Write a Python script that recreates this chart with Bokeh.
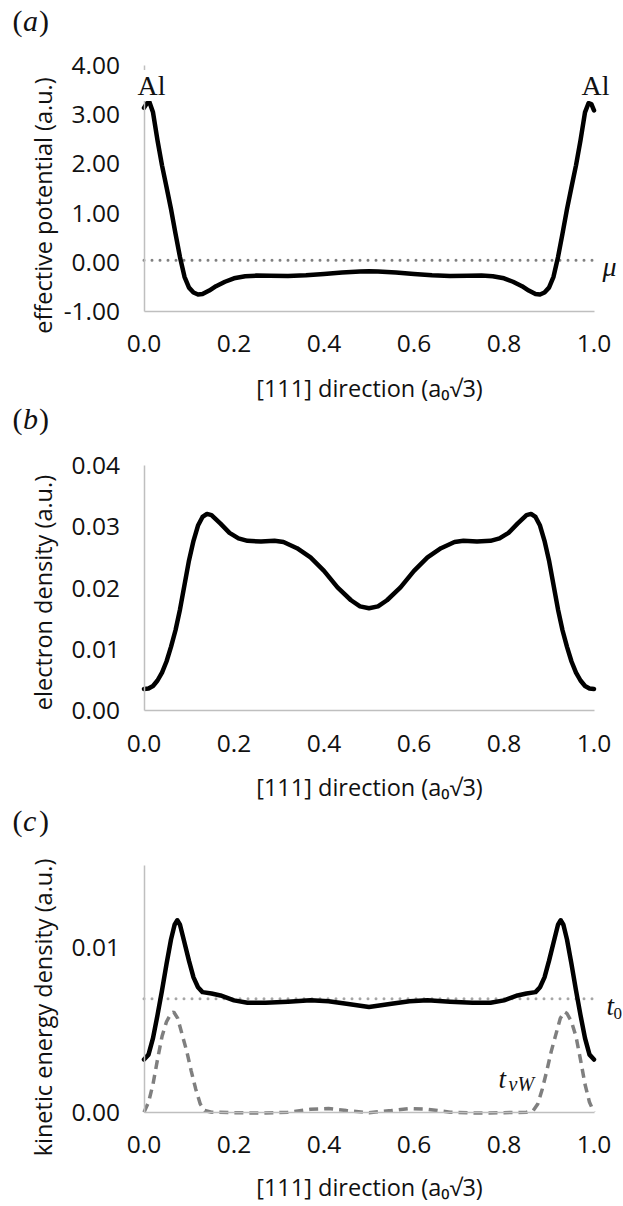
import math
from bokeh.plotting import figure
from bokeh.layouts import column
from bokeh.models import FixedTicker, NumeralTickFormatter, Label, Range1d
from bokeh.embed import file_html
from bokeh.resources import INLINE

# ---------------- data ----------------
x_ticks = [0.0, 0.2, 0.4, 0.6, 0.8, 1.0]

# (a) effective potential along [111]
pos_a = [0.000, 0.006, 0.012, 0.020, 0.030, 0.040, 0.050, 0.060, 0.070, 0.080,
         0.090, 0.100, 0.110, 0.120, 0.130, 0.145, 0.160, 0.180, 0.200, 0.225,
         0.250, 0.280, 0.320, 0.360, 0.400, 0.440, 0.480, 0.500, 0.520, 0.560,
         0.600, 0.640, 0.680, 0.720, 0.750, 0.775, 0.800, 0.820, 0.840, 0.855,
         0.870, 0.880, 0.890, 0.900, 0.910, 0.920, 0.930, 0.940, 0.950, 0.960,
         0.970, 0.980, 0.988, 0.994, 1.000]
veff = [3.14, 3.23, 3.26, 3.05, 2.48, 1.97, 1.53, 1.08, 0.58, 0.10,
        -0.30, -0.52, -0.62, -0.66, -0.65, -0.58, -0.49, -0.40, -0.33, -0.29,
        -0.275, -0.28, -0.285, -0.27, -0.24, -0.21, -0.19, -0.185, -0.19, -0.21,
        -0.24, -0.27, -0.285, -0.28, -0.275, -0.29, -0.33, -0.40, -0.49, -0.58,
        -0.65, -0.66, -0.62, -0.52, -0.30, 0.10, 0.58, 1.08, 1.53, 1.97,
        2.48, 3.05, 3.24, 3.22, 3.09]
mu_level = 0.04
a_yticks = [-1, 0, 1, 2, 3, 4]
a_yrange = (-1, 4)

# (b) electron density
pos_b = [0.000, 0.010, 0.020, 0.030, 0.040, 0.050, 0.060, 0.070, 0.080, 0.090,
         0.100, 0.110, 0.120, 0.130, 0.140, 0.150, 0.170, 0.190, 0.210, 0.230,
         0.260, 0.290, 0.310, 0.340, 0.370, 0.400, 0.430, 0.460, 0.480, 0.500,
         0.520, 0.540, 0.570, 0.600, 0.630, 0.660, 0.690, 0.710, 0.740, 0.770,
         0.790, 0.810, 0.830, 0.850, 0.860, 0.870, 0.880, 0.890, 0.900, 0.910,
         0.920, 0.930, 0.940, 0.950, 0.960, 0.970, 0.980, 0.990, 1.000]
density = [0.0035, 0.0036, 0.0040, 0.0049, 0.0062, 0.0080, 0.0104, 0.0131, 0.0165, 0.0205,
           0.0245, 0.0277, 0.0302, 0.0316, 0.0321, 0.0319, 0.0305, 0.0290, 0.0281, 0.0277,
           0.0276, 0.0277, 0.0275, 0.0265, 0.0250, 0.0228, 0.0201, 0.0180, 0.0170, 0.0167,
           0.0170, 0.0180, 0.0201, 0.0228, 0.0250, 0.0265, 0.0275, 0.0277, 0.0276, 0.0277,
           0.0281, 0.0290, 0.0305, 0.0319, 0.0321, 0.0316, 0.0302, 0.0277, 0.0245, 0.0205,
           0.0165, 0.0131, 0.0104, 0.0080, 0.0062, 0.0049, 0.0040, 0.0036, 0.0035]
b_yticks = [0.00, 0.01, 0.02, 0.03, 0.04]
b_yrange = (0.0, 0.04)

# (c) kinetic energy density (total) and von Weizsaecker term
pos_c = [0.000, 0.010, 0.020, 0.030, 0.040, 0.050, 0.060, 0.068, 0.074, 0.080,
         0.090, 0.100, 0.110, 0.120, 0.130, 0.150, 0.170, 0.200, 0.230, 0.270,
         0.320, 0.370, 0.410, 0.450, 0.500, 0.550, 0.590, 0.630, 0.680, 0.730,
         0.770, 0.800, 0.830, 0.850, 0.870, 0.880, 0.890, 0.900, 0.910, 0.920,
         0.926, 0.932, 0.940, 0.950, 0.960, 0.970, 0.980, 0.990, 1.000]
ked = [0.0032, 0.0035, 0.0045, 0.0059, 0.0074, 0.0090, 0.0105, 0.0114, 0.01167, 0.0114,
       0.0103, 0.0092, 0.0082, 0.0076, 0.0073, 0.00722, 0.0071, 0.0068, 0.00665, 0.00665,
       0.00672, 0.0068, 0.00675, 0.0066, 0.0064, 0.0066, 0.00675, 0.0068, 0.00672, 0.00665,
       0.00665, 0.0068, 0.0071, 0.00722, 0.0073, 0.0076, 0.0082, 0.0092, 0.0103, 0.0114,
       0.01167, 0.0114, 0.0105, 0.0090, 0.0074, 0.0059, 0.0045, 0.0035, 0.0032]
pos_vw = [0.000, 0.010, 0.020, 0.030, 0.040, 0.050, 0.060, 0.066, 0.075, 0.085,
          0.095, 0.105, 0.115, 0.125, 0.135, 0.150, 0.200, 0.260, 0.320, 0.370,
          0.410, 0.450, 0.500, 0.550, 0.590, 0.630, 0.680, 0.740, 0.800, 0.850,
          0.865, 0.875, 0.885, 0.895, 0.905, 0.915, 0.925, 0.934, 0.940, 0.950,
          0.960, 0.970, 0.980, 0.990, 1.000]
t_vw = [0.0000, 0.0006, 0.0017, 0.0032, 0.0046, 0.0055, 0.0060, 0.0061, 0.0057, 0.0047,
        0.0037, 0.0025, 0.0014, 0.0005, 0.0001, 0.0000, -0.00003, -0.00005, 0.0000, 0.00018,
        0.00022, 0.0001, -0.00003, 0.0001, 0.00022, 0.00018, 0.0000, -0.00005, -0.00003, 0.0000,
        0.0001, 0.0005, 0.0014, 0.0025, 0.0037, 0.0047, 0.0057, 0.0061, 0.0060, 0.0055,
        0.0046, 0.0032, 0.0017, 0.0006, 0.0000]
t0_level = 0.0069
c_yticks = [0.00, 0.01]
c_yrange = (0.0, 0.015)

x_title = "[111] direction (a\u2080\u221a3)"

# ---------------- layout geometry (page pixels) ----------------
SANS = "Open Sans"
SERIF = "Liberation Serif"
W = 623            # canvas width
AX_X0 = 143.5      # pixel of x = 0
AX_W = 450.0       # pixels from x = 0 to x = 1
INK = "#111111"
TICK_SIZE = "24.5px"
TITLE_SIZE = "23.5px"


class Panel:
    """A figure whose frame fills its canvas; axes are pinned at fixed locations.
    All pixel positions given to it are page rows/columns; `top` is the page row
    where this figure's canvas begins."""

    def __init__(self, top, h, yrange, yticks, py_lo, py_hi):
        self.top = top
        self.y0, self.y1 = yrange
        self.py0 = py_lo - top                # local pixel row of y0
        self.ky = (py_lo - py_hi) / (self.y1 - self.y0)
        self.kx = AX_W
        xs = -AX_X0 / self.kx
        xe = (W - AX_X0) / self.kx
        ye = self.y0 + self.py0 / self.ky
        ys = self.y0 - (h - self.py0) / self.ky
        p = figure(width=W, height=h, title=None,
                   x_range=Range1d(xs, xe), y_range=Range1d(ys, ye),
                   output_backend="svg", toolbar_location=None,
                   min_border=0, min_border_left=0, min_border_right=0,
                   min_border_top=0, min_border_bottom=0)
        p.outline_line_color = None
        p.xgrid.visible = False
        p.ygrid.visible = False
        p.background_fill_color = "white"
        p.border_fill_color = "white"
        p.xaxis.ticker = FixedTicker(ticks=x_ticks)
        p.yaxis.ticker = FixedTicker(ticks=yticks)
        p.xaxis.formatter = NumeralTickFormatter(format="0.0")
        p.yaxis.formatter = NumeralTickFormatter(format="0.00")
        p.xaxis.fixed_location = self.y0
        p.yaxis.fixed_location = 0.0
        p.xaxis.bounds = (0.0, 1.0)
        p.yaxis.bounds = (self.y0, self.y1)
        for ax in (p.xaxis[0], p.yaxis[0]):
            ax.axis_line_color = "#BFBFBF"
            ax.axis_line_width = 1.5
            ax.major_tick_line_color = None
            ax.minor_tick_line_color = None
            ax.major_tick_in = 0
            ax.major_tick_out = 0
            ax.major_label_text_font = SANS
            ax.major_label_text_font_size = TICK_SIZE
            ax.major_label_text_color = INK
        p.xaxis.major_label_standoff = 24
        p.yaxis.major_label_standoff = 24
        self.p = p

    def dx(self, px):
        return (px - AX_X0) / self.kx

    def dy(self, py):
        return self.y0 + (self.py0 - (py - self.top)) / self.ky

    def text(self, s, px, py, font=SANS, size=TITLE_SIZE, style="normal", align="center",
             baseline="middle", angle=0.0, bg=None, color=INK):
        l = Label(x=self.dx(px), y=self.dy(py), text=s,
                  text_font=font, text_font_size=size, text_font_style=style,
                  text_align=align, text_baseline=baseline, angle=angle,
                  text_color=color)
        if bg is not None:
            l.background_fill_color = bg
            l.background_fill_alpha = 1.0
        self.p.add_layout(l)

    def tag(self, letter, py):
        self.text("(", 12, py, font=SERIF, size="30px", align="left")
        self.text(letter, 22.5, py, font=SERIF, size="30px", style="italic", align="left")
        self.text(")", 38.5, py, font=SERIF, size="30px", align="left")


# canvas splits chosen in the blank gaps between panels
A = Panel(0, 440, a_yrange, a_yticks, 310.7, 65.2)
B = Panel(440, 400, b_yrange, b_yticks, 710.0, 465.0)
C = Panel(840, 366, c_yrange, c_yticks, 1111.7, 865.0)

# ---------------- panel (a) ----------------
pa = A.p
pa.line([0, 1], [mu_level, mu_level], line_color="#7F7F7F", line_width=3,
        line_dash="0 8", line_cap="round")
pa.line(pos_a, veff, line_color="black", line_width=4.5, line_join="round", line_cap="round")
A.tag("a", 20)
A.text("Al", 151, 85, font=SERIF, size="28px", baseline="alphabetic", bg="white")
A.text("Al", 595, 85, font=SERIF, size="28px", baseline="alphabetic", bg="white")
A.text("\u03bc", 602, 266, font=SERIF, size="28px", style="italic", align="left",
       baseline="alphabetic")
A.text("effective potential (a.u.)", 42, 205, angle=math.pi / 2)
A.text(x_title, 369, 387)

# ---------------- panel (b) ----------------
pb = B.p
pb.line(pos_b, density, line_color="black", line_width=4.5, line_join="round", line_cap="round")
A.tag("b", 418)
B.text("electron density (a.u.)", 42, 592, angle=math.pi / 2)
B.text(x_title, 369, 786)

# ---------------- panel (c) ----------------
pc = C.p
pc.line([0, 1], [t0_level, t0_level], line_color="#A6A6A6", line_width=3,
        line_dash="0 8", line_cap="round")
pc.line(pos_vw, t_vw, line_color="#7F7F7F", line_width=3.5, line_dash="9 6")
pc.line(pos_c, ked, line_color="black", line_width=4.5, line_join="round", line_cap="round")
B.tag("c", 820)
C.text("t", 606, 1005, font=SERIF, size="27px", style="italic", align="left", baseline="alphabetic")
C.text("0", 613, 1013, font=SERIF, size="17px", align="left", baseline="alphabetic")
C.text("t", 498, 1078, font=SERIF, size="27px", style="italic", align="left", baseline="alphabetic")
C.text("vW", 508, 1083, font=SERIF, size="20px", style="italic", align="left", baseline="alphabetic")
C.text("kinetic energy density (a.u.)", 42, 1007, angle=math.pi / 2)
C.text(x_title, 369, 1186)

layout = column(pa, pb, pc, spacing=0)
open("out.html", "w").write(file_html(layout, INLINE))
